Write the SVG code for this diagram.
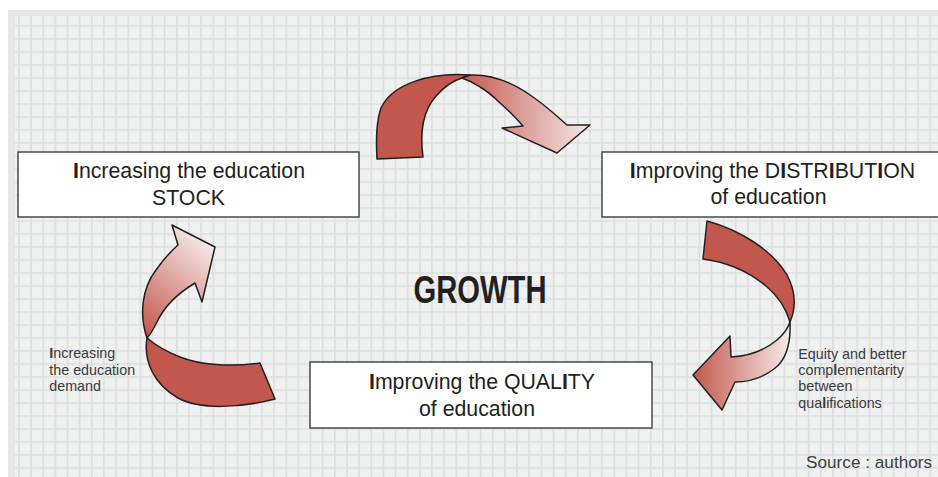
<svg xmlns="http://www.w3.org/2000/svg" width="938" height="477" viewBox="0 0 938 477">
<defs>
<style>
.box{fill:#ffffff;stroke:#4a4a4a;stroke-width:1.5}
.bt{font-family:"Liberation Sans",Arial,sans-serif;font-size:21.3px;fill:#231f20;text-anchor:middle}
.st{font-family:"Liberation Sans",Arial,sans-serif;font-size:14.3px;fill:#3a3a3a}
.b{font-weight:bold}
.rib{stroke:#231f20;stroke-width:1.5;stroke-linejoin:round}
.solid{fill:#c1574d}
</style>
<pattern id="grid" patternUnits="userSpaceOnUse" x="30.2" y="25.2" width="12.15" height="13">
<rect width="12.15" height="13" fill="#eff0f0"/>
<rect width="1.6" height="13" fill="#dddedf"/>
<rect width="12.15" height="1.6" fill="#dddedf"/>
</pattern>
<linearGradient id="g1" gradientUnits="userSpaceOnUse" x1="465" y1="0" x2="590" y2="0">
<stop offset="0" stop-color="#c65e55"/><stop offset="1" stop-color="#f4e7e4"/>
</linearGradient>
<linearGradient id="g2" gradientUnits="userSpaceOnUse" x1="792" y1="0" x2="695" y2="0">
<stop offset="0" stop-color="#f6edeb"/><stop offset="1" stop-color="#c45a50"/>
</linearGradient>
<linearGradient id="g3" gradientUnits="userSpaceOnUse" x1="142" y1="330" x2="212" y2="248">
<stop offset="0" stop-color="#c45a50"/><stop offset="1" stop-color="#f4e6e3"/>
</linearGradient>
</defs>

<g id="background">
<rect x="8" y="10" width="930" height="467" fill="#e4e5e6"/>
<rect x="15" y="16" width="923" height="461" fill="url(#grid)"/>
</g>

<g id="connectors">
<g id="arrow-stock-to-distribution">
<path class="rib solid" d="M470,75 C430,72 392,84 381,108 C376,122 376,142 377,159 L423,157 C420,135 422,112 436,96 C444,87 452,81 462,78 Z"/>
<path class="rib" fill="url(#g1)" d="M462,78 L470,75 C492,74 515,84 533,97 C546,106 558,117 567,125 L590,125 L557,153 L502,128 L523,126 C516,118 508,110 500,103 C494,97 487,91 480,87 C474,83 468,80 462,78 Z"/>
</g>
<g id="arrow-distribution-to-quality">
<path class="rib solid" d="M707,221 C740,230 772,250 787,275 C796,292 796,308 790,322 C786,308 778,296 766,286 C748,271 726,262 703,259 Z"/>
<path class="rib" fill="url(#g2)" d="M790,322 C791,345 786,360 774,369 C762,378 748,382 735,382 L722,410 L693,375 L730,336 L731,357 C748,356 765,350 777,340 C784,334 788,328 790,322 Z"/>
</g>
<g id="arrow-quality-to-stock">
<path class="rib solid" d="M147,338 C143,362 155,385 178,398 C200,410 240,408 275,399 L260,363 C230,367 200,365 180,357 C165,351 154,344 147,338 Z"/>
<path class="rib" fill="url(#g3)" d="M147,338 C139,315 142,288 156,270 C163,260 170,252 178,245 L172,225 L215,247 L202,302 L195,283 C180,292 165,305 157,322 C153,330 150,335 147,338 Z"/>
</g>
</g>

<g id="node-stock">
<rect class="box" x="18" y="152" width="341" height="65"/>
<text class="bt" x="189" y="178"><tspan class="b">I</tspan>ncreasing the education</text>
<text class="bt" x="188.5" y="205">STOCK</text>
</g>

<g id="node-distribution">
<rect class="box" x="602" y="152" width="345" height="65"/>
<text class="bt" x="772.5" y="178"><tspan class="b">I</tspan>mproving the D<tspan class="b">I</tspan>STR<tspan class="b">I</tspan>BUT<tspan class="b">I</tspan>ON</text>
<text class="bt" x="768.5" y="204">of education</text>
</g>

<g id="node-quality">
<rect class="box" x="310" y="362" width="342" height="66"/>
<text class="bt" x="482" y="389"><tspan class="b">I</tspan>mproving the QUAL<tspan class="b">I</tspan>TY</text>
<text class="bt" x="477" y="416">of education</text>
</g>

<g id="label-growth">
<text x="413.5" y="302.5" font-family="Liberation Sans, Arial, sans-serif" font-weight="bold" font-size="38" fill="#231f20" textLength="133" lengthAdjust="spacingAndGlyphs">GROWTH</text>
</g>

<g id="label-demand">
<text class="st" x="49.3" y="358"><tspan class="b">I</tspan>ncreasing</text>
<text class="st" x="49.3" y="374.5">the education</text>
<text class="st" x="49.3" y="391">demand</text>
</g>

<g id="label-equity">
<text class="st" x="798.3" y="359">Equity and better</text>
<text class="st" x="798.3" y="375.2">comp<tspan class="b">l</tspan>ementarity</text>
<text class="st" x="798.3" y="391.4">between</text>
<text class="st" x="798.3" y="407.6">qua<tspan class="b">l</tspan>ifications</text>
</g>

<g id="label-source">
<text x="806" y="467.7" font-family="Liberation Sans, Arial, sans-serif" font-size="17.2" fill="#3d3d3d">Source : authors</text>
</g>
</svg>
